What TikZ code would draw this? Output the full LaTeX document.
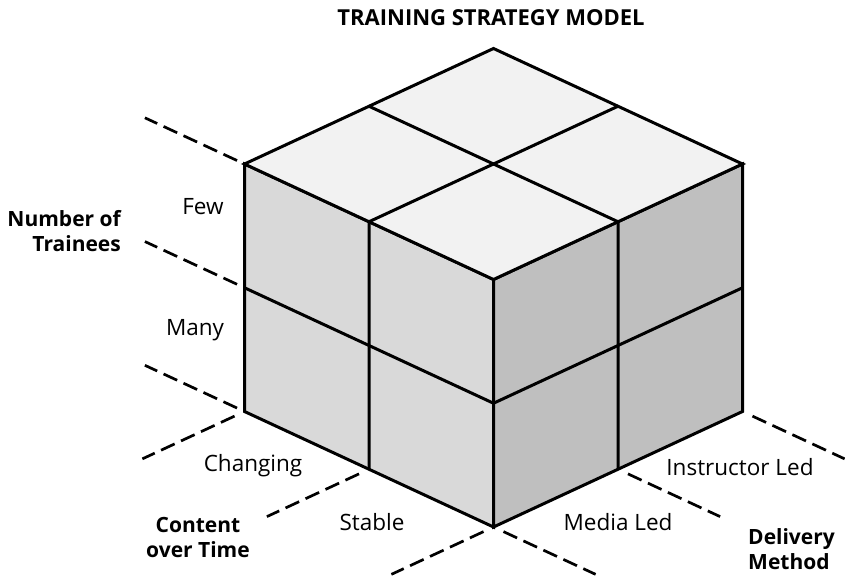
\documentclass[tikz,border=0pt]{standalone}
\usepackage{fontspec}
\setmainfont{Open Sans}
\usetikzlibrary{positioning}

\definecolor{topgray}{HTML}{F2F2F2}
\definecolor{leftgray}{HTML}{D9D9D9}
\definecolor{rightgray}{HTML}{BFBFBF}

\tikzset{
  cubeline/.style={line width=3pt, line join=miter},
  axisdash/.style={line width=2.7pt, dash pattern=on 15pt off 7pt},
  celltext/.style={font=\fontsize{22.5}{25}\selectfont, inner sep=0pt},
  axistext/.style={font=\fontsize{21}{25}\selectfont\bfseries, inner sep=0pt},
}

\begin{document}
\begin{tikzpicture}[x=1pt,y=1pt]
\useasboundingbox (0,0) rectangle (845,576);
\fill[white] (0,0) rectangle (845,576);

\node[font=\fontsize{22}{24}\selectfont\bfseries, inner sep=0pt] (title) at (491,558) {TRAINING STRATEGY MODEL};

\begin{scope}[shift={(493.5pt,49pt)}, x={(-124.5pt,57.75pt)}, y={(124.5pt,57.75pt)}, z={(0pt,123.75pt)}]
  % faces
  \filldraw[cubeline, fill=leftgray] (0,0,0) -- (2,0,0) -- (2,0,2) -- (0,0,2) -- cycle;
  \filldraw[cubeline, fill=rightgray] (0,0,0) -- (0,2,0) -- (0,2,2) -- (0,0,2) -- cycle;
  \filldraw[cubeline, fill=topgray] (0,0,2) -- (2,0,2) -- (2,2,2) -- (0,2,2) -- cycle;
  % cell lines
  \draw[cubeline] (1,0,0) -- (1,0,2) -- (1,2,2);
  \draw[cubeline] (0,1,0) -- (0,1,2) -- (2,1,2);
  \draw[cubeline] (2,0,1) -- (0,0,1) -- (0,2,1);
  % axes
  \foreach \k in {0,1,2} {
    \draw[axisdash] (2.06,0,\k) -- (2.8,0,\k);
    \draw[axisdash] (\k,-0.08,0) -- (\k,-0.82,0);
    \draw[axisdash] (-0.08,\k,0) -- (-0.82,\k,0);
  }
\end{scope}

\node[celltext] (few) at (203,369) {Few};
\node[celltext] (many) at (195,246) {Many};
\node[axistext, align=right, anchor=east] (trainees) at (121,345) {Number of\\Trainees};

\node[celltext] (changing) at (253,110) {Changing};
\node[celltext] (stable) at (372,54) {Stable};
\node[axistext, align=center] (content) at (198,39) {Content\\over Time};

\node[celltext] (instructor) at (740,109) {Instructor Led};
\node[celltext] (media) at (618,54) {Media Led};
\node[axistext, align=left, anchor=west] (delivery) at (748,27) {Delivery\\Method};
\end{tikzpicture}
\end{document}
